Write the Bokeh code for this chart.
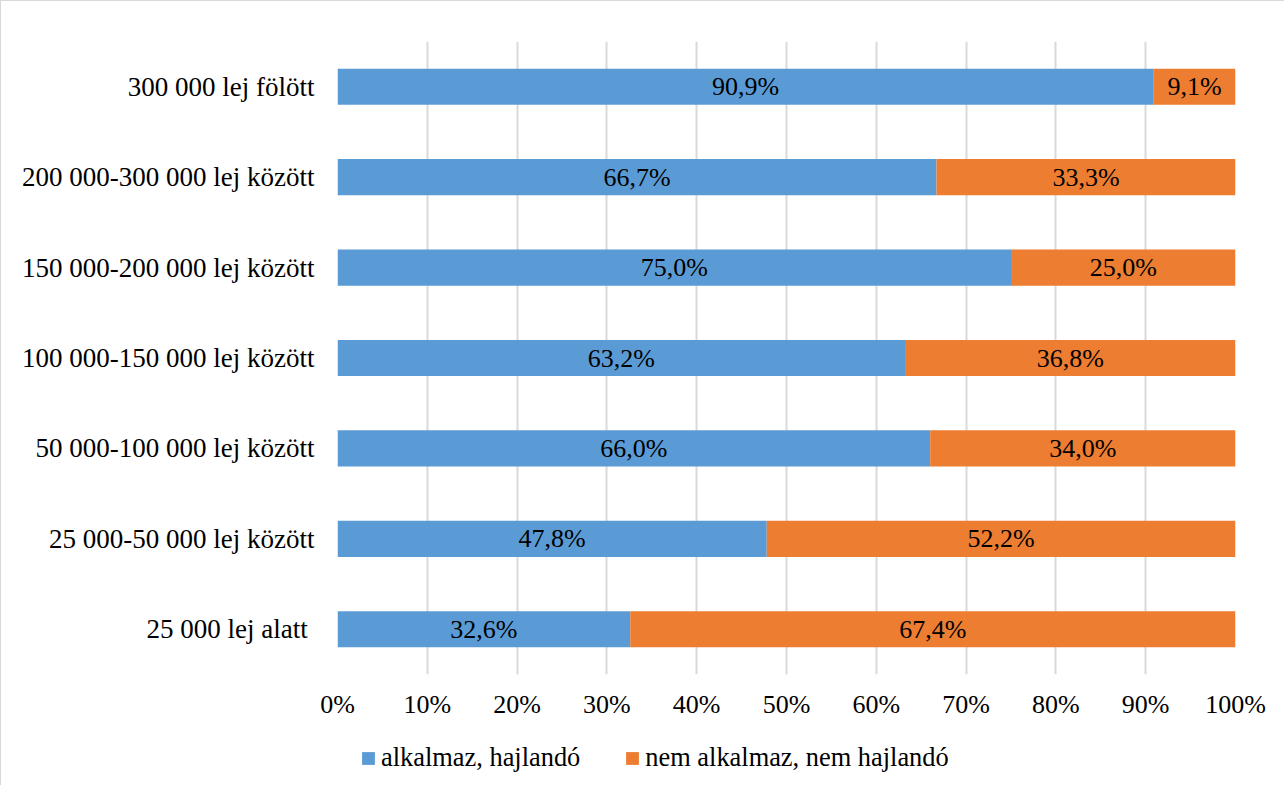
from bokeh.plotting import figure
from bokeh.layouts import column
from bokeh.models import ColumnDataSource, FactorRange, FixedTicker, Legend, LegendItem, LabelSet
from bokeh.embed import file_html
from bokeh.resources import INLINE

categories = ["25 000 lej alatt ", "25 000-50 000 lej között", "50 000-100 000 lej között",
              "100 000-150 000 lej között", "150 000-200 000 lej között",
              "200 000-300 000 lej között", "300 000 lej fölött"]
alkalmaz = [32.6, 47.8, 66.0, 63.2, 75.0, 66.7, 90.9]
nem_alkalmaz = [67.4, 52.2, 34.0, 36.8, 25.0, 33.3, 9.1]
x_ticks = [0, 10, 20, 30, 40, 50, 60, 70, 80, 90, 100]
series_names = ["alkalmaz, hajlandó", "nem alkalmaz, nem hajlandó"]

BLUE = "#5B9BD5"
ORANGE = "#ED7D31"
FONT = "Liberation Serif"
FS = "26px"
BORDER = "1px solid #d9d9d9"

W = 1284
p = figure(width=W, height=730, output_backend="svg", toolbar_location=None,
           y_range=FactorRange(*categories, range_padding=0),
           x_range=(0, 100))
p.min_border_left = 336
p.min_border_right = 50
p.min_border_top = 40
p.min_border_bottom = 57
p.outline_line_color = None
p.styles = {"border-top": BORDER, "border-left": BORDER}

left2 = alkalmaz
right2 = [a + b for a, b in zip(alkalmaz, nem_alkalmaz)]
src = ColumnDataSource(dict(
    cat=categories,
    a_left=[0] * len(categories), a_right=alkalmaz,
    b_left=left2, b_right=right2,
    a_mid=[a / 2 for a in alkalmaz],
    b_mid=[l + (r - l) / 2 for l, r in zip(left2, right2)],
    a_lab=[f"{v:.1f}%".replace(".", ",") for v in alkalmaz],
    b_lab=[f"{v:.1f}%".replace(".", ",") for v in nem_alkalmaz],
))

p.hbar(y="cat", left="a_left", right="a_right", height=0.4, source=src,
       fill_color=BLUE, line_color=None)
p.hbar(y="cat", left="b_left", right="b_right", height=0.4, source=src,
       fill_color=ORANGE, line_color=None)

for xcol, tcol in (("a_mid", "a_lab"), ("b_mid", "b_lab")):
    p.add_layout(LabelSet(x=xcol, y="cat", text=tcol, source=src,
                          text_align="center", text_baseline="middle",
                          text_font=FONT, text_font_size=FS, text_color="black"))

p.xaxis.ticker = FixedTicker(ticks=x_ticks)
p.xaxis.major_label_overrides = {t: f"{t}%" for t in x_ticks}
for ax in (p.xaxis, p.yaxis):
    ax.axis_line_color = None
    ax.major_tick_line_color = None
    ax.minor_tick_line_color = None
    ax.major_label_text_font = FONT
    ax.major_label_text_font_size = FS
    ax.major_label_text_color = "black"
p.yaxis.major_label_text_font_size = "27px"
p.xaxis.major_label_standoff = 9
p.yaxis.major_label_standoff = 17

p.xgrid.grid_line_color = "#d9d9d9"
p.xgrid.grid_line_width = 2
p.ygrid.grid_line_color = None

# legend strip (frame aligned with the main plot's frame by the column layout)
p2 = figure(width=W, height=55, output_backend="svg", toolbar_location=None,
            x_range=(0, 1), y_range=(0, 1))
p2.min_border_left = 0
p2.min_border_right = 0
p2.min_border_top = 0
p2.min_border_bottom = 0
p2.axis.visible = False
p2.grid.grid_line_color = None
p2.outline_line_color = None
p2.styles = {"border-left": BORDER}
lr1 = p2.hbar(y=[5], left=[0], right=[0], height=0.4, fill_color=BLUE, line_color=None)
lr2 = p2.hbar(y=[5], left=[0], right=[0], height=0.4, fill_color=ORANGE, line_color=None)

legend = Legend(items=[LegendItem(label=series_names[0], renderers=[lr1]),
                       LegendItem(label=series_names[1], renderers=[lr2])],
                location=(23, 12), orientation="horizontal",
                glyph_width=16, glyph_height=16, label_standoff=5, spacing=44,
                padding=0, margin=0, border_line_color=None, background_fill_alpha=0,
                label_text_font=FONT, label_text_font_size="26.4px", label_text_color="black")
p2.add_layout(legend, "center")

open("out.html", "w").write(file_html(column(p, p2), INLINE))
